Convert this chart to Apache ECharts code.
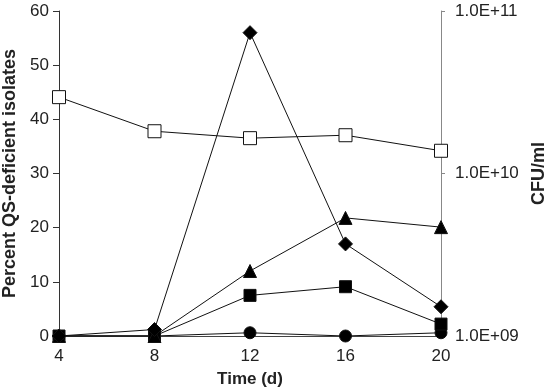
<!DOCTYPE html>
<html>
<head>
<meta charset="utf-8">
<script src="https://cdn.jsdelivr.net/npm/echarts@6/dist/echarts.min.js"></script>
<style>
  html, body { margin: 0; padding: 0; background: #fff; }
  #chart { width: 549px; height: 391px; }
</style>
</head>
<body>
<div id="chart"></div>
<script>
const days = [4, 8, 12, 16, 20]
// percent QS-deficient isolates (left axis)
const diamondVals = [0, 1.2, 56, 17, 5.4]
const triangleVals = [0, 0, 12, 21.8, 20.1]
const squareVals = [0, 0, 7.5, 9.1, 2.2]
const circleVals = [0, 0, 0.6, 0, 0.6]
// CFU/ml (right axis, log)
const cfuVals = [2.95e10, 1.82e10, 1.65e10, 1.72e10, 1.38e10]

const font = 'Liberation Sans, Arial, sans-serif'

const pair = (vals) => days.map((d, i) => [d, vals[i]])

const lineSeries = (name, vals, symbol, size, yIndex = 0, fill = '#000') => ({
  name,
  type: 'line',
  yAxisIndex: yIndex,
  data: pair(vals),
  symbol,
  symbolSize: size,
  showAllSymbol: true,
  lineStyle: { color: '#111', width: 1 },
  itemStyle: { color: fill, borderColor: '#111', borderWidth: 1 },
  animation: false,
})

const chart = echarts.init(document.getElementById('chart'))
chart.setOption({
  backgroundColor: '#fff',
  grid: { left: 59, right: 108, top: 11, bottom: 55, containLabel: false, outerBoundsMode: 'none' },
  xAxis: {
    type: 'value',
    min: 4,
    max: 20,
    interval: 4,
    name: 'Time (d)',
    nameLocation: 'middle',
    nameGap: 35,
    nameTextStyle: { fontFamily: font, fontSize: 17, fontWeight: 'bold', color: '#222' },
    axisLine: { lineStyle: { color: '#444' } },
    axisTick: { show: false },
    axisLabel: { fontFamily: font, fontSize: 17, color: '#222', margin: 12 },
    splitLine: { show: false },
  },
  yAxis: [
    {
      type: 'value',
      min: 0,
      max: 60,
      interval: 10,
      name: 'Percent QS-deficient isolates',
      nameLocation: 'middle',
      nameGap: 40,
      nameTextStyle: { fontFamily: font, fontSize: 18, fontWeight: 'bold', color: '#222' },
      axisLine: { show: true, lineStyle: { color: '#333' } },
      axisTick: { show: true, length: 6, lineStyle: { color: '#333' } },
      axisLabel: { fontFamily: font, fontSize: 17, color: '#222', margin: 10 },
      splitLine: { show: false },
    },
    {
      type: 'log',
      logBase: 10,
      min: 1e9,
      max: 1e11,
      position: 'right',
      name: 'CFU/ml',
      nameLocation: 'middle',
      nameGap: 87,
      nameRotate: 90,
      nameTextStyle: { fontFamily: font, fontSize: 18, fontWeight: 'bold', color: '#222' },
      axisLine: { show: true, lineStyle: { color: '#888' } },
      axisTick: { show: true, length: 4, lineStyle: { color: '#888' } },
      axisLabel: {
        fontFamily: font,
        fontSize: 17,
        color: '#222',
        margin: 14,
        formatter: (v) => {
          const e = Math.round(Math.log10(v))
          return '1.0E+' + (e < 10 ? '0' + e : e)
        },
      },
      splitLine: { show: false },
    },
  ],
  series: [
    lineSeries('circle', circleVals, 'circle', 12),
    lineSeries('square', squareVals, 'rect', 12),
    lineSeries('triangle', triangleVals, 'triangle', 13),
    lineSeries('diamond', diamondVals, 'diamond', 14),
    lineSeries('cfu', cfuVals, 'rect', 13, 1, '#fff'),
  ],
})
</script>
</body>
</html>
